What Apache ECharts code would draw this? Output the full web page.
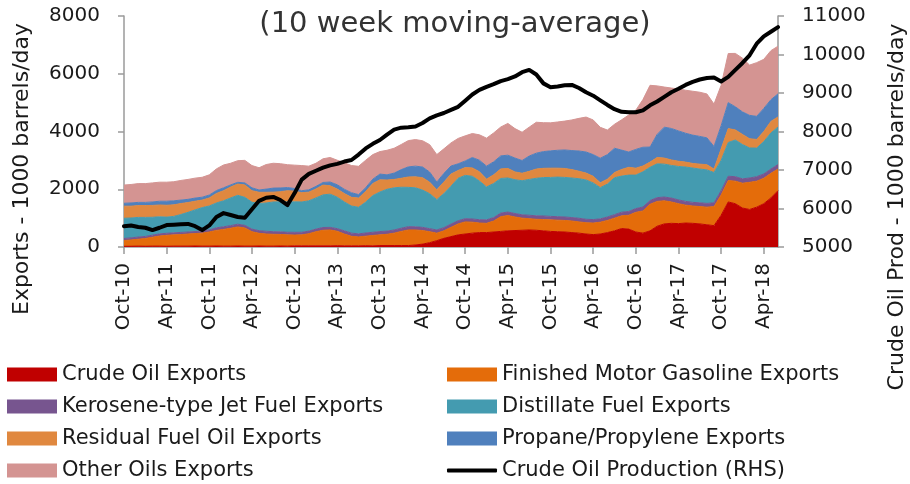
<!DOCTYPE html>
<html>
<head>
<meta charset="utf-8">
<script src="https://cdn.jsdelivr.net/npm/echarts@6/dist/echarts.min.js"></script>
<style>
  html, body { margin: 0; padding: 0; background: #fff; }
  #chart { width: 910px; height: 484px; }
</style>
</head>
<body>
<div id="chart"></div>
<script>
// monthly points, Oct-10 .. Jun-18
const months = [
  'Oct-10', 'Nov-10', 'Dec-10',
  'Jan-11', 'Feb-11', 'Mar-11', 'Apr-11', 'May-11', 'Jun-11', 'Jul-11', 'Aug-11', 'Sep-11', 'Oct-11', 'Nov-11', 'Dec-11',
  'Jan-12', 'Feb-12', 'Mar-12', 'Apr-12', 'May-12', 'Jun-12', 'Jul-12', 'Aug-12', 'Sep-12', 'Oct-12', 'Nov-12', 'Dec-12',
  'Jan-13', 'Feb-13', 'Mar-13', 'Apr-13', 'May-13', 'Jun-13', 'Jul-13', 'Aug-13', 'Sep-13', 'Oct-13', 'Nov-13', 'Dec-13',
  'Jan-14', 'Feb-14', 'Mar-14', 'Apr-14', 'May-14', 'Jun-14', 'Jul-14', 'Aug-14', 'Sep-14', 'Oct-14', 'Nov-14', 'Dec-14',
  'Jan-15', 'Feb-15', 'Mar-15', 'Apr-15', 'May-15', 'Jun-15', 'Jul-15', 'Aug-15', 'Sep-15', 'Oct-15', 'Nov-15', 'Dec-15',
  'Jan-16', 'Feb-16', 'Mar-16', 'Apr-16', 'May-16', 'Jun-16', 'Jul-16', 'Aug-16', 'Sep-16', 'Oct-16', 'Nov-16', 'Dec-16',
  'Jan-17', 'Feb-17', 'Mar-17', 'Apr-17', 'May-17', 'Jun-17', 'Jul-17', 'Aug-17', 'Sep-17', 'Oct-17', 'Nov-17', 'Dec-17',
  'Jan-18', 'Feb-18', 'Mar-18', 'Apr-18', 'May-18', 'Jun-18'
];

// exports, 1000 barrels/day (left axis), stacked bottom to top
const crudeOil = [
  25, 25, 30,
  25, 30, 30, 25, 30, 30, 30, 35, 30, 30, 35, 30,
  30, 35, 30, 30, 35, 30, 30, 35, 30, 40, 40, 40,
  40, 40, 40, 45, 40, 40, 40, 45, 40, 50, 50, 50,
  50, 50, 70, 100, 150, 220, 300, 360, 420, 450, 480, 500,
  500, 520, 540, 560, 570, 580, 590, 580, 560, 540, 530, 520,
  500, 480, 450, 430, 450, 500, 560, 640, 620, 520, 480, 560,
  720, 800, 820, 810, 830, 820, 800, 770, 740, 1100, 1560, 1500,
  1350, 1300, 1380, 1500, 1700, 1950
];
const gasoline = [
  200, 220, 240,
  270, 310, 350, 380, 390, 400, 420, 430, 450, 490, 540, 580,
  620, 660, 630, 500, 440, 420, 410, 400, 390, 375, 380, 420,
  490, 540, 550, 500, 410, 330, 310, 330, 360, 370, 390, 430,
  490, 540, 520, 470, 380, 260, 260, 320, 380, 420, 380, 330,
  320, 380, 510, 530, 470, 420, 390, 380, 390, 400, 400, 400,
  400, 390, 390, 400, 410, 420, 440, 440, 480, 680, 770, 920,
  860, 800, 740, 690, 620, 600, 600, 610, 660, 700, 740, 780,
  860, 940, 900, 880, 850, 750
];
const jetFuel = [
  70, 70, 75,
  70, 70, 75, 70, 70, 75, 70, 70, 75, 70, 90, 90,
  90, 95, 90, 90, 90, 95, 90, 90, 90, 95, 90, 90,
  90, 95, 90, 90, 110, 110, 105, 110, 110, 115, 110, 110,
  110, 115, 110, 110, 105, 110, 110, 115, 110, 110, 110, 115,
  120, 120, 125, 120, 120, 115, 120, 120, 125, 120, 120, 120,
  120, 125, 120, 120, 115, 120, 120, 125, 130, 130, 135, 130,
  130, 130, 135, 130, 130, 125, 130, 130, 130, 150, 150, 155,
  150, 150, 155, 150, 150, 155
];
const distillate = [
  700, 690, 680,
  660, 620, 590, 560, 570, 620, 680, 750, 810, 830, 860, 900,
  960, 1000, 970, 930, 940, 980, 1030, 1040, 1050, 1055, 1050, 1050,
  1080, 1130, 1150, 1090, 1000, 940, 920, 1070, 1270, 1370, 1450, 1460,
  1420, 1360, 1350, 1290, 1210, 1050, 1180, 1310, 1470, 1500, 1480, 1340,
  1140, 1180, 1200, 1180, 1170, 1180, 1240, 1300, 1330, 1350, 1370, 1370,
  1370, 1370, 1360, 1270, 1080, 1140, 1280, 1250, 1260, 1160, 1220, 1150,
  1170, 1140, 1130, 1160, 1190, 1190, 1170, 1160, 1050, 1050, 1170, 1270,
  1190, 1040, 990, 1120, 1250, 1300
];
const residualFuel = [
  420, 410, 410,
  410, 410, 410, 410, 400, 380, 340, 300, 260, 280, 330, 350,
  380, 390, 430, 400, 390, 370, 340, 350, 390, 370, 320, 300,
  310, 340, 290, 280, 290, 300, 320, 370, 420, 420, 320, 290,
  310, 360, 380, 430, 400, 340, 400, 420, 270, 270, 290, 320,
  270, 300, 330, 330, 270, 260, 280, 320, 320, 320, 310, 310,
  290, 260, 240, 230, 170, 170, 180, 230, 270, 240, 200, 180,
  220, 210, 190, 180, 170, 160, 170, 180, 120, 400, 480, 350,
  350, 320, 300, 350, 400, 350
];
const propane = [
  100, 110, 110,
  110, 120, 130, 140, 140, 120, 110, 110, 100, 100, 100, 100,
  70, 60, 70, 100, 80, 110, 140, 130, 110, 90, 70, 80,
  90, 90, 130, 150, 150, 160, 120, 130, 150, 200, 180, 220,
  300, 350, 370, 370, 350, 270, 300, 280, 230, 230, 360, 400,
  450, 450, 450, 460, 480, 440, 530, 550, 580, 600, 620, 640,
  660, 700, 730, 750, 850, 850, 840, 670, 530, 650, 650, 520,
  800, 1070, 1090, 1050, 1000, 980, 960, 930, 780, 800, 900, 800,
  780, 810, 800, 800, 750, 800
];
const otherOils = [
  630, 640, 650,
  650, 660, 660, 660, 660, 680, 690, 690, 690, 700, 750, 790,
  750, 750, 780, 770, 770, 850, 860, 840, 790, 810, 870, 820,
  800, 820, 850, 850, 920, 940, 980, 950, 850, 780, 850, 860,
  870, 910, 920, 910, 950, 950, 850, 800, 880, 870, 830, 880,
  970, 1000, 1000, 1100, 1020, 980, 1000, 1070, 1000, 970, 980, 1000,
  1060, 1130, 1210, 1200, 1070, 850, 830, 1050, 1280, 1360, 1650, 2140,
  1680, 1390, 1400, 1450, 1490, 1520, 1530, 1520, 1470, 1400, 1700, 1850,
  1860, 1740, 1860, 1700, 1700, 1650
];

// crude oil production, 1000 barrels/day (right axis)
const production = [
  5540, 5560, 5520,
  5500, 5440, 5500, 5570, 5580, 5590, 5600, 5540, 5440, 5560, 5780, 5880,
  5830, 5780, 5760, 5980, 6200, 6280, 6300, 6220, 6090, 6400, 6750, 6900,
  6980, 7060, 7120, 7160, 7220, 7260, 7400, 7560, 7680, 7780, 7920, 8050,
  8100, 8110, 8130, 8220, 8340, 8420, 8480, 8560, 8640, 8800, 8960, 9080,
  9160, 9230, 9310, 9360, 9430, 9540, 9600, 9480, 9250, 9150, 9170, 9200,
  9210, 9130, 9020, 8930, 8810, 8690, 8580, 8510, 8500, 8500, 8550, 8680,
  8780, 8900, 9020, 9110, 9210, 9290, 9350, 9390, 9400, 9300, 9420, 9600,
  9780, 9980, 10280, 10470, 10590, 10710
];

const FONT = 'DejaVu Sans';
const TEXT = '#1a1a1a';
const AXIS = '#9a9a9a';

const stacked = [
  { name: 'Crude Oil Exports', data: crudeOil, color: '#C00000' },
  { name: 'Finished Motor Gasoline Exports', data: gasoline, color: '#E46C0A' },
  { name: 'Kerosene-type Jet Fuel Exports', data: jetFuel, color: '#77558F' },
  { name: 'Distillate Fuel Exports', data: distillate, color: '#449BB0' },
  { name: 'Residual Fuel Oil Exports', data: residualFuel, color: '#E0883F' },
  { name: 'Propane/Propylene Exports', data: propane, color: '#4F80BD' },
  { name: 'Other Oils Exports', data: otherOils, color: '#D49492' }
];

const areaSeries = stacked.map(s => ({
  name: s.name,
  type: 'line',
  stack: 'exports',
  data: s.data,
  color: s.color,
  symbol: 'none',
  smooth: false,
  lineStyle: { width: 1, color: s.color },
  areaStyle: { color: s.color, opacity: 1 },
  emphasis: { disabled: true }
}));

const legendBase = {
  orient: 'vertical',
  top: 364,
  padding: 0,
  itemWidth: 50,
  itemHeight: 14,
  itemGap: 11,
  selectedMode: false,
  icon: 'rect',
  textStyle: { fontFamily: FONT, fontSize: 21, color: TEXT }
};

const plainNumber = v => String(v);

const chart = echarts.init(document.getElementById('chart'), null, { renderer: 'canvas' });

chart.setOption({
  animation: false,
  backgroundColor: '#fff',
  textStyle: { fontFamily: FONT },
  title: {
    text: '(10 week moving-average)',
    left: 450,
    textAlign: 'center',
    top: 5,
    textStyle: { fontFamily: FONT, fontSize: 29, fontWeight: 'normal', color: '#333' }
  },
  grid: { left: 124, right: 132, top: 16, bottom: 237 },
  legend: [
    Object.assign({}, legendBase, {
      left: 7,
      data: ['Crude Oil Exports', 'Kerosene-type Jet Fuel Exports', 'Residual Fuel Oil Exports', 'Other Oils Exports']
    }),
    Object.assign({}, legendBase, {
      left: 447,
      data: ['Finished Motor Gasoline Exports', 'Distillate Fuel Exports', 'Propane/Propylene Exports']
    }),
    Object.assign({}, legendBase, {
      left: 447,
      top: 460,
      itemHeight: 4,
      icon: 'roundRect',
      data: ['Crude Oil Production (RHS)']
    })
  ],
  xAxis: {
    type: 'category',
    data: months,
    boundaryGap: false,
    axisLine: { lineStyle: { color: AXIS, width: 1.5 } },
    axisTick: { interval: 5, length: 7, lineStyle: { color: AXIS, width: 1.5 } },
    axisLabel: {
      interval: 5,
      rotate: 90,
      margin: 16,
      fontFamily: FONT,
      fontSize: 20,
      color: TEXT
    },
    splitLine: { show: false }
  },
  yAxis: [
    {
      type: 'value',
      min: 0,
      max: 8000,
      interval: 2000,
      axisLine: { show: true, lineStyle: { color: AXIS, width: 1.5 } },
      axisTick: { show: true, length: 6, lineStyle: { color: AXIS, width: 1.5 } },
      axisLabel: { margin: 24, fontFamily: FONT, fontSize: 20, color: TEXT, formatter: plainNumber },
      splitLine: { show: false }
    },
    {
      type: 'value',
      min: 5000,
      max: 11000,
      interval: 1000,
      position: 'right',
      axisLine: { show: true, lineStyle: { color: AXIS, width: 1.5 } },
      axisTick: { show: true, length: 6, lineStyle: { color: AXIS, width: 1.5 } },
      axisLabel: { margin: 24, fontFamily: FONT, fontSize: 20, color: TEXT, formatter: plainNumber },
      splitLine: { show: false }
    }
  ],
  graphic: [
    {
      type: 'text',
      x: 22,
      y: 169,
      rotation: Math.PI / 2,
      style: {
        text: 'Exports - 1000 barrels/day',
        fontFamily: FONT,
        fontSize: 22,
        fill: TEXT,
        align: 'center',
        verticalAlign: 'middle'
      }
    },
    {
      type: 'text',
      x: 897,
      y: 207,
      rotation: Math.PI / 2,
      style: {
        text: 'Crude Oil Prod - 1000 barrels/day',
        fontFamily: FONT,
        fontSize: 22,
        fill: TEXT,
        align: 'center',
        verticalAlign: 'middle'
      }
    }
  ],
  series: areaSeries.concat([
    {
      name: 'Crude Oil Production (RHS)',
      type: 'line',
      yAxisIndex: 1,
      data: production,
      color: '#000',
      symbol: 'none',
      z: 5,
      lineStyle: { width: 4, color: '#000', join: 'round', cap: 'round' },
      emphasis: { disabled: true }
    }
  ])
});
</script>
</body>
</html>
